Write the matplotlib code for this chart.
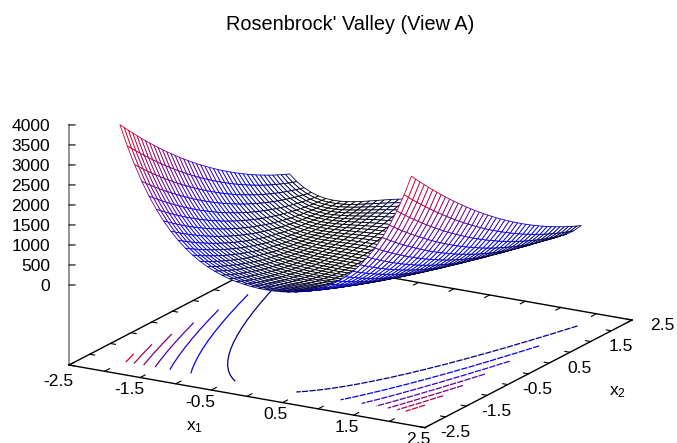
import numpy as np
import matplotlib
matplotlib.use('Agg')
import matplotlib.pyplot as plt
from matplotlib.colors import LinearSegmentedColormap, Normalize
from mpl_toolkits.mplot3d import proj3d

plt.rcParams['font.family'] = ['Liberation Sans', 'DejaVu Sans']
plt.rcParams['mathtext.default'] = 'regular'

x_grid = [-2.048, -1.9456, -1.8432, -1.7408, -1.6384, -1.536, -1.4336, -1.3312, -1.2288, -1.1264, -1.024,
          -0.9216, -0.8192, -0.7168, -0.6144, -0.512, -0.4096, -0.3072, -0.2048, -0.1024, 0,
          0.1024, 0.2048, 0.3072, 0.4096, 0.512, 0.6144, 0.7168, 0.8192, 0.9216, 1.024,
          1.1264, 1.2288, 1.3312, 1.4336, 1.536, 1.6384, 1.7408, 1.8432, 1.9456, 2.048]
x1_vals = x_grid
x2_vals = x_grid
# one row per x1, one column per x2
z_vals = [
    [3906,3779,3654,3532,3411,3293,3177,3062,2950,2840,2732,2626,2523,2421,2321,2224,2129,2035,1944,1855,1768,1683,1601,1520,1441,1365,1291,1218,1148,1080,1014,950,888,829,771,716,662,611,562,515,470],
    [3412,3294,3177,3063,2951,2841,2733,2627,2524,2422,2322,2225,2129,2036,1945,1856,1769,1684,1601,1520,1442,1365,1291,1219,1148,1080,1014,950,888,828,771,715,661,610,561,514,469,426,385,346,310],
    [2974,2863,2755,2648,2544,2442,2342,2244,2148,2055,1963,1874,1786,1701,1618,1537,1458,1381,1306,1233,1162,1094,1027,963,900,840,782,726,672,620,571,523,478,434,393,354,317,282,249,218,190],
    [2586,2483,2382,2283,2187,2092,2000,1910,1821,1735,1651,1569,1489,1411,1336,1262,1191,1121,1054,989,926,865,806,749,694,642,591,543,497,452,410,370,332,296,262,231,201,174,149,125,104],
    [2246,2150,2056,1965,1875,1788,1702,1619,1538,1459,1382,1307,1234,1163,1095,1028,964,901,841,783,727,673,621,572,524,479,435,394,355,318,283,250,219,190,164,139,117,96,78,62,47],
    [1949,1860,1773,1688,1605,1524,1445,1368,1294,1222,1151,1083,1017,953,891,831,773,717,664,612,563,516,471,428,387,348,311,277,244,213,185,159,134,112,92,74,58,44,33,23,16],
    [1690,1607,1526,1447,1370,1296,1223,1153,1084,1018,954,892,832,774,719,665,614,564,517,472,429,388,349,312,277,245,214,186,159,135,113,93,75,59,45,34,24,17,11,8,6],
    [1465,1388,1313,1240,1169,1100,1033,969,906,846,788,731,677,625,575,528,482,438,397,357,320,285,252,221,192,165,140,118,97,79,62,48,36,26,18,12,9,7,7,9,13],
    [1271,1199,1130,1062,997,933,872,813,755,700,648,597,548,501,457,415,374,336,300,266,234,204,176,151,127,105,86,69,54,41,30,21,14,9,7,6,7,10,16,23,34],
    [1105,1038,973,910,850,791,735,680,628,578,530,484,440,399,359,322,286,253,222,193,166,141,118,97,79,62,48,35,25,17,11,7,5,6,8,13,19,28,39,52,66],
    [963,901,840,782,726,672,620,570,523,477,434,392,353,316,281,248,217,188,161,137,114,94,75,59,45,33,23,15,10,6,5,5,8,13,20,29,40,53,68,86,105],
    [843,785,728,674,622,572,525,479,435,394,354,317,282,249,218,189,162,137,115,94,76,60,45,33,23,15,10,6,4,5,7,12,19,28,39,52,67,84,104,125,148],
    [742,688,635,585,536,490,446,404,364,326,290,257,225,196,168,143,120,99,80,63,48,35,25,17,10,6,4,4,6,10,16,24,34,47,62,78,97,118,141,166,193],
    [659,608,559,511,466,423,382,344,307,272,240,209,181,155,131,109,89,71,55,41,29,20,12,7,4,3,4,7,12,20,29,41,54,70,88,107,129,153,179,208,238],
    [591,542,496,451,409,369,331,295,261,229,199,172,146,123,102,82,65,50,37,26,17,10,6,3,3,4,8,14,22,32,44,59,75,94,114,137,162,188,217,248,282],
    [536,490,445,403,363,325,290,256,224,195,167,142,119,98,79,62,47,34,24,16,9,5,3,2,4,8,15,23,33,46,60,77,96,117,139,164,192,221,252,286,321],
    [493,449,406,366,328,292,259,227,197,170,144,121,100,81,64,49,36,25,16,9,5,2,2,4,8,14,22,32,44,59,75,94,115,137,162,189,218,250,283,318,356],
    [461,418,377,339,302,268,235,205,177,151,127,105,86,68,53,39,28,19,11,6,3,2,3,6,12,19,29,41,55,70,88,108,131,155,181,210,240,273,308,345,384],
    [438,396,357,319,284,250,219,190,163,138,115,94,75,59,44,32,22,14,8,4,2,2,4,8,15,24,34,47,62,79,98,119,142,168,195,224,256,290,326,364,404],
    [425,384,345,308,273,240,210,181,155,131,108,88,70,54,40,29,19,11,6,3,1,2,5,10,17,26,38,51,67,84,104,126,150,176,204,234,266,301,337,376,417],
    [420,380,341,304,269,237,207,178,152,128,106,86,68,52,39,27,18,10,5,2,1,2,5,10,18,27,39,52,68,86,106,128,152,178,207,237,269,304,341,380,420],
    [425,384,345,308,273,240,210,181,155,131,108,88,70,54,40,29,19,11,6,3,1,2,5,10,17,26,38,51,67,84,104,126,150,176,204,234,266,301,337,376,417],
    [437,395,356,318,283,249,218,189,162,137,114,93,74,58,43,31,21,13,7,3,1,1,3,7,14,23,33,46,61,78,97,118,141,167,194,223,255,289,325,363,403],
    [460,417,376,338,301,267,234,204,176,150,126,104,85,67,52,38,27,18,10,5,2,1,2,5,11,18,28,40,54,69,87,107,130,154,180,209,239,272,307,344,383],
    [491,447,404,364,326,290,257,225,195,168,142,119,98,79,62,47,34,23,14,7,3,0,0,2,6,12,20,30,42,57,73,92,113,135,160,187,216,248,281,316,354],
    [534,488,443,401,361,323,288,254,222,193,165,140,117,96,77,60,45,32,22,14,7,3,1,0,2,6,13,21,31,44,58,75,94,115,137,162,190,219,250,284,319],
    [589,540,494,449,407,367,329,293,259,227,197,170,144,121,100,80,63,48,35,24,15,8,4,1,1,2,6,12,20,30,42,57,73,92,112,135,160,186,215,246,280],
    [656,605,556,508,463,420,379,341,304,269,237,206,178,152,128,106,86,68,52,38,26,17,9,4,1,0,1,4,9,17,26,38,51,67,85,104,126,150,176,205,235],
    [739,685,632,582,533,487,443,401,361,323,287,254,222,193,165,140,117,96,77,60,45,32,22,14,7,3,1,1,3,7,13,21,31,44,59,75,94,115,138,163,190],
    [839,781,724,670,618,568,521,475,431,390,350,313,278,245,214,185,158,133,111,90,72,56,41,29,19,11,6,2,0,1,3,8,15,24,35,48,63,80,100,121,144],
    [959,897,836,778,722,668,616,566,519,473,430,388,349,312,277,244,213,184,157,133,110,90,71,55,41,29,19,11,6,2,1,1,4,9,16,25,36,49,64,82,101],
    [1100,1033,968,905,845,786,730,675,623,573,525,479,435,394,354,317,281,248,217,188,161,136,113,92,74,57,43,30,20,12,6,2,0,1,3,8,14,23,34,47,61],
    [1266,1194,1125,1057,992,928,867,808,750,695,643,592,543,496,452,410,369,331,295,261,229,199,171,146,122,100,81,64,49,36,25,16,9,4,2,1,2,5,11,18,29],
    [1460,1383,1308,1235,1164,1095,1028,964,901,841,783,726,672,620,570,523,477,433,392,352,315,280,247,216,187,160,135,113,92,74,57,43,31,21,13,7,4,2,2,4,8],
    [1684,1601,1520,1441,1364,1290,1217,1147,1078,1012,948,886,826,768,713,659,608,558,511,466,423,382,343,306,271,239,208,180,153,129,107,87,69,53,39,28,18,11,5,2,0],
    [1943,1854,1767,1682,1599,1518,1439,1362,1288,1216,1145,1077,1011,947,885,825,767,711,658,606,557,510,465,422,381,342,305,271,238,207,179,153,128,106,86,68,52,38,27,17,10],
    [2239,2143,2049,1958,1868,1781,1695,1612,1531,1452,1375,1300,1227,1156,1088,1021,957,894,834,776,720,666,614,565,517,472,428,387,348,311,276,243,212,183,157,132,110,89,71,55,40],
    [2579,2476,2375,2276,2180,2085,1993,1903,1814,1728,1644,1562,1482,1404,1329,1255,1184,1114,1047,982,919,858,799,742,687,635,584,536,490,445,403,363,325,289,255,224,194,167,142,118,97],
    [2967,2856,2748,2641,2537,2435,2335,2237,2141,2048,1956,1867,1779,1694,1611,1530,1451,1374,1299,1226,1155,1087,1020,956,893,833,775,719,665,613,564,516,471,427,386,347,310,275,242,211,183],
    [3404,3286,3169,3055,2943,2833,2725,2619,2516,2414,2314,2217,2121,2028,1937,1848,1761,1676,1593,1512,1434,1357,1283,1211,1140,1072,1006,942,880,820,763,707,653,602,553,506,461,418,377,338,302],
    [3898,3771,3646,3524,3403,3285,3169,3054,2942,2832,2724,2618,2515,2413,2313,2216,2121,2027,1936,1847,1760,1675,1593,1512,1433,1357,1283,1210,1140,1072,1006,942,880,821,763,708,654,603,554,507,462],
]
levels = [500, 1000, 1500, 2000, 2500, 3000, 3500]
xy_ticks = [-2.5, -2, -1.5, -1, -0.5, 0, 0.5, 1, 1.5, 2, 2.5]
xy_labelled = [-2.5, -1.5, -0.5, 0.5, 1.5, 2.5]
z_ticks = [0, 500, 1000, 1500, 2000, 2500, 3000, 3500, 4000]

X, Y = np.meshgrid(x1_vals, x2_vals, indexing='ij')
Z = np.array(z_vals, dtype=float)
mid = len(x1_vals) // 2

cm = LinearSegmentedColormap.from_list('rb', [(0, 'black'), (0.25, 'blue'), (1, 'red')])
norm = Normalize(0, 4000)

fig = plt.figure(figsize=(6.77, 4.43), dpi=100)
ax = fig.add_axes([0.1, 0.05, 0.8, 0.9], projection='3d', computed_zorder=False)
ax.set_proj_type('ortho')
ax.view_init(elev=17.6, azim=-59.8)
ax.set_box_aspect((1, 1, 252 / 412))
ax.set_xlim(-2.5, 2.5, view_margin=0)
ax.set_ylim(-2.5, 2.5, view_margin=0)
ax.set_zlim(-2000, 4000, view_margin=0)
base = -2000

# contours on the base, left branch solid, right branch dashed
ax.contour(X[:mid + 1].T, Y[:mid + 1].T, Z[:mid + 1].T, levels=levels, zdir='z', offset=base,
           cmap=cm, norm=norm, linewidths=0.9, zorder=1)
ax.contour(X[mid:].T, Y[mid:].T, Z[mid:].T, levels=levels, zdir='z', offset=base,
           cmap=cm, norm=norm, linewidths=0.9, linestyles=[(0, (5, 1))], zorder=1)

# far edges of the base, ticks drawn on all four sides pointing inward
ax.plot([-2.5, -2.5, 2.5], [-2.5, 2.5, 2.5], [base, base, base], color='k', lw=1, zorder=0.5)
for t in xy_ticks:
    ax.plot([t, t], [2.5, 2.38], [base, base], color='k', lw=0.8, zorder=0.5)
    ax.plot([t, t], [-2.5, -2.38], [base, base], color='k', lw=0.8, zorder=0.5)
    ax.plot([-2.5, -2.43], [t, t], [base, base], color='k', lw=0.8, zorder=0.5)
    ax.plot([2.5, 2.43], [t, t], [base, base], color='k', lw=0.8, zorder=0.5)
for v in z_ticks:
    ax.plot([-2.5, -2.437], [-2.5, -2.463], [v, v], color='k', lw=0.8, zorder=0.5)

surf = ax.plot_surface(X, Y, Z, rstride=1, cstride=1, color='white', shade=False,
                       linewidth=0.6, edgecolor='k', zorder=2)
zmean = (Z[:-1, :-1] + Z[1:, :-1] + Z[:-1, 1:] + Z[1:, 1:]) / 4
surf.set_edgecolor(cm(norm(zmean)).reshape(-1, 4))

ax.set_xticks(xy_ticks, [''] * len(xy_ticks))
ax.set_yticks(xy_ticks, [''] * len(xy_ticks))
ax.set_zticks(z_ticks, [''] * len(z_ticks))
ax.zaxis.set_ticks_position('lower')
ax.grid(False)
for axis in (ax.xaxis, ax.yaxis, ax.zaxis):
    axis.set_pane_color((1, 1, 1, 0))
    axis.pane.set_edgecolor((1, 1, 1, 0))
    axis._axinfo['tick']['inward_factor'] = 0
    axis._axinfo['tick']['outward_factor'] = 0
    axis.line.set_linewidth(1)
    axis.line.set_color('k')
ax.zaxis.line.set_color('gray')
ax.zaxis.line.set_linewidth(1.2)

# put the base corners where the reference has them
H = 443.0
def screen(x, y, z=base):
    px, py, _ = proj3d.proj_transform(x, y, z, ax.get_proj())
    return ax.transData.transform((px, py))
for i in range(3):
    fig.canvas.draw()
    a = screen(-2.5, -2.5)
    c = screen(2.5, 2.5)
    pos = ax.get_position()
    f = 563.0 / (c[0] - a[0])
    ax.set_position([pos.x0, pos.y0, pos.width * f, pos.height * f])
    fig.canvas.draw()
    a = screen(-2.5, -2.5)
    pos = ax.get_position()
    ax.set_position([pos.x0 + (69 - a[0]) / 677, pos.y0 + (H - 365 - a[1]) / H, pos.width, pos.height])
fig.canvas.draw()

# tick labels sit at a pixel offset from where their tick lands
def label(s, p, dx, dy, ha='center'):
    fig.text((p[0] + dx) / 677, (p[1] - dy) / H, s, ha=ha, va='center', fontsize=12.6)
for t in xy_labelled:
    label(str(t), screen(t, -2.5), -11 if t < 0 else -7, 16 if t == -2.5 else 12)
    label(str(t), screen(2.5, t), 30, 5)
for v in z_ticks:
    label(str(v), screen(-2.5, -2.5, v), -19, 1.5, ha='right')

fig.text(195 / 677, 1 - 427 / H, 'x$_1$', ha='center', va='center', fontsize=12.6)
fig.text(618 / 677, 1 - 392 / H, 'x$_2$', ha='center', va='center', fontsize=12.6)
fig.text(350 / 677, 1 - 24 / H, "Rosenbrock' Valley (View A)", ha='center', va='center', fontsize=14.3)
fig.savefig('out.png', dpi=100)
